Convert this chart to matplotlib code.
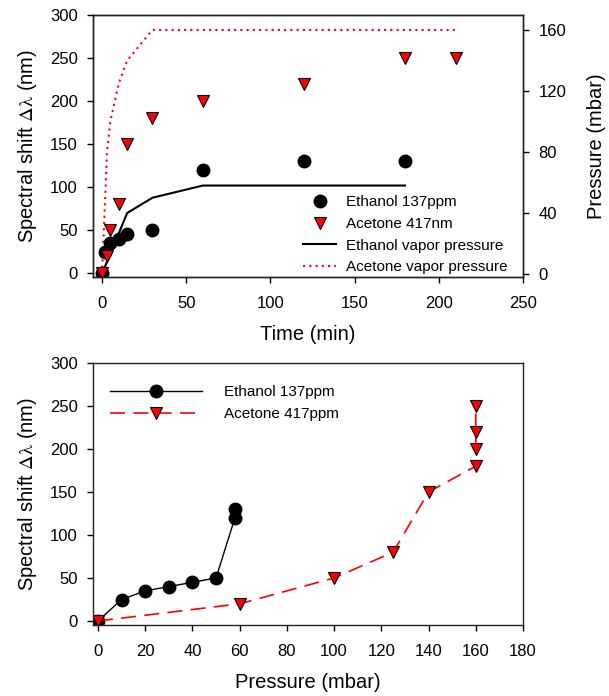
import matplotlib
matplotlib.use("Agg")
import matplotlib.pyplot as plt

plt.rcParams['font.family'] = ['Liberation Sans', 'DejaVu Sans']
plt.rcParams['mathtext.fontset'] = 'stix'

# top panel: time series
eth_time = [0, 2, 5, 10, 15, 30, 60, 120, 180]
eth_shift = [0, 25, 35, 40, 45, 50, 120, 130, 130]
ace_time = [0, 3, 5, 10, 15, 30, 60, 120, 180, 210]
ace_shift = [0, 20, 50, 80, 150, 180, 200, 220, 250, 250]

# vapor pressure curves (right axis)
eth_vp_time = [0, 15, 30, 60, 180]
eth_vp = [0, 40, 50, 58, 58]
ace_vp_time = [0, 1.5, 3, 5, 10, 15, 30, 60, 120, 180, 210]
ace_vp = [0, 38, 80, 100, 125, 140, 160, 160, 160, 160, 160]

# bottom panel: shift vs pressure
eth_p2 = [0, 10, 20, 30, 40, 50, 58, 58]
eth_s2 = [0, 25, 35, 40, 45, 50, 120, 130]
ace_p2 = [0, 60, 100, 125, 140, 160, 160, 160, 160]
ace_s2 = [0, 20, 50, 80, 150, 180, 200, 220, 250]

fig = plt.figure(figsize=(6.09, 6.96), dpi=100)
ax1 = fig.add_axes([93/609, 1-277/696, 430/609, 262/696])
ax1b = ax1.twinx()
ax2 = fig.add_axes([93/609, 1-625/696, 430/609, 262/696])

ylab = r'Spectral shift $\mathrm{\Delta\lambda}$ (nm)'

# top
l1, = ax1b.plot(eth_vp_time, eth_vp, color='black', lw=1.5)
l2, = ax1b.plot(ace_vp_time, ace_vp, color='red', lw=1.5, linestyle=(0, (1, 2)))
s1, = ax1.plot(eth_time, eth_shift, 'o', color='black', ms=9, linestyle='none')
s2, = ax1.plot(ace_time, ace_shift, 'v', mfc='red', mec='black', mew=0.8, ms=9,
               linestyle='none')
ax1.set_zorder(ax1b.get_zorder() + 1)
ax1.patch.set_visible(False)

ax1.set_xlim(-5.3, 250)
ax1.set_ylim(-4.65, 300)
ax1b.set_ylim(-1.97, 169.8)
ax1.set_xticks([0, 50, 100, 150, 200, 250])
ax1.set_yticks([0, 50, 100, 150, 200, 250, 300])
ax1b.set_yticks([0, 40, 80, 120, 160])
ax1.set_xlabel('Time (min)', fontsize=14.5, labelpad=10)
ax1.set_ylabel(ylab, fontsize=14.5, labelpad=8)
ax1b.set_ylabel('Pressure (mbar)', fontsize=14.5, labelpad=15)
ax1.legend([s1, s2, l1, l2],
           ['Ethanol 137ppm', 'Acetone 417nm', 'Ethanol vapor pressure',
            'Acetone vapor pressure'],
           loc='lower left', bbox_to_anchor=(0.488, 0.01), frameon=False,
           fontsize=11, borderpad=0, borderaxespad=0, handlelength=2.2,
           handletextpad=0.65, labelspacing=0.5)

# bottom
ax2.plot(eth_p2, eth_s2, '-o', color='black', lw=1.0, ms=9,
         label='Ethanol 137ppm')
ax2.plot(ace_p2, ace_s2, 'v', color='red', mfc='red', mec='black', mew=0.8,
         ms=9, lw=1.2, linestyle=(0, (9, 5)), label='Acetone 417ppm')
ax2.set_xlim(-2.1, 180)
ax2.set_ylim(-4.65, 300)
ax2.set_xticks(range(0, 181, 20))
ax2.set_yticks([0, 50, 100, 150, 200, 250, 300])
ax2.set_xlabel('Pressure (mbar)', fontsize=14.5, labelpad=10)
ax2.set_ylabel(ylab, fontsize=14.5, labelpad=8)
ax2.legend(loc='upper left', bbox_to_anchor=(0.0395, 0.915), frameon=False,
           fontsize=11, borderpad=0, borderaxespad=0, handlelength=6,
           handletextpad=1.45, labelspacing=0.5)

for a in (ax1, ax1b, ax2):
    a.tick_params(direction='out', length=4.5, width=1, labelsize=12, pad=6.5)
    a.tick_params(axis='x', pad=9.5)
    for sp in a.spines.values():
        sp.set_linewidth(1.0)
        sp.set_color('#222222')

fig.savefig('out.png', dpi=100)
